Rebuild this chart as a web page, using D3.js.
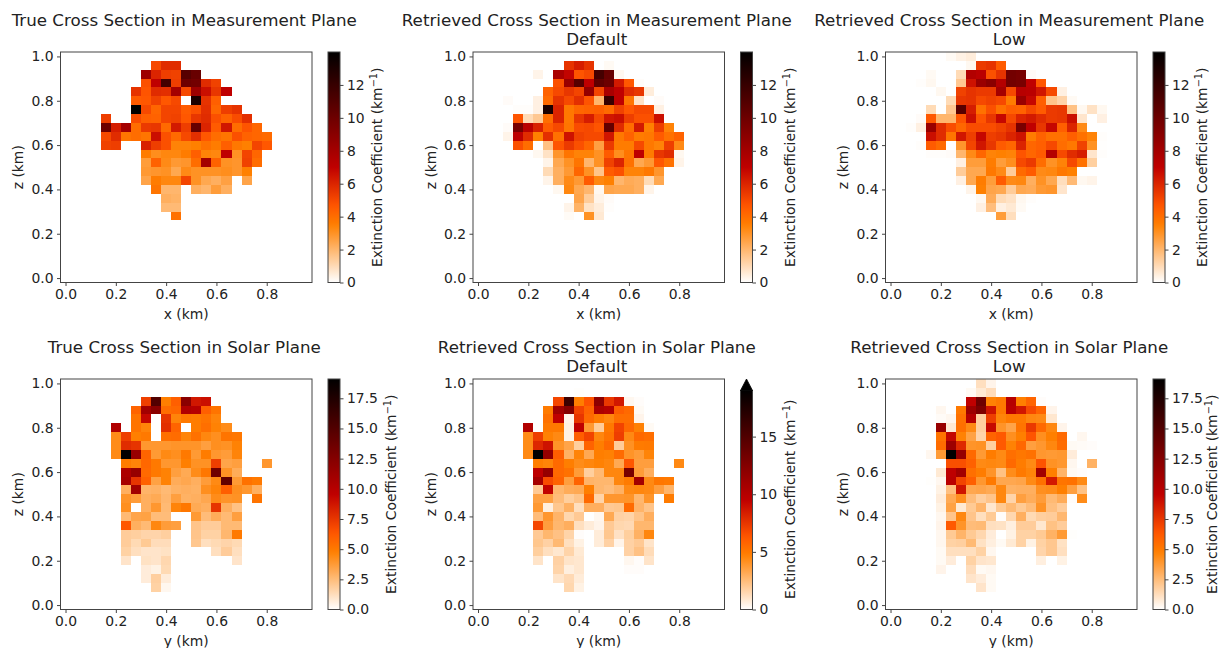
<!DOCTYPE html>
<html>
<head>
<meta charset="utf-8">
<script src="https://cdn.jsdelivr.net/npm/d3@7"></script>
<style>
  html, body { margin: 0; padding: 0; background: #fff; overflow: hidden; }
  text { font-family: "DejaVu Sans", sans-serif; fill: #222; }
</style>
</head>
<body>
<script>
// rows run from z = 1.00 down, columns from 0.00 in 0.04 km steps, 0 = empty cell
const trueMeasurement = [
  [],
  [0,0,0,0,0,0,0,0,0,5.0,5.8,5.8],
  [0,0,0,0,0,0,0,0,8.2,6.0,5.3,5.2,10.8,10.2],
  [0,0,0,0,0,0,0,0,4.8,7.0,11.5,5.3,10,9.8,5.8,5.2],
  [0,0,0,0,0,0,0,5.6,4.7,5.8,5.7,8.0,5.0,8.2,6.6,5.5,7],
  [0,0,0,0,0,0,0,4.5,4.6,5.2,4.6,5.0,0,13,5.6,4.4],
  [0,0,0,0,0,0,0,14,5,4.2,5.1,5.1,4.5,4.8,5.7,4.2,5.3,5.6],
  [0,0,0,0,5.3,0,0,4.9,4.4,4.3,5.1,5.2,4.6,5.5,5.8,4.8,4.3,4.9,5.7],
  [0,0,0,0,10,6.2,8,4,5.4,5.5,4.1,6.3,5.3,10.3,6,4.5,6.4,4,4.7,4.2],
  [0,0,0,0,5,5.8,3.8,4,3.8,6.6,4.8,4.1,5,5.7,4.6,4,3.8,4.8,4.3,4.2,4.1],
  [0,0,0,0,5.2,5.3,0,0,6.1,5.3,4.8,3.4,3.4,3.5,3.9,3.6,4.4,3.7,3.5,5.1,4.6],
  [0,0,0,0,0,0,0,0,3.6,3.1,3.3,3.3,3.6,4.4,3.4,3.3,7,3,5.1,4.2],
  [0,0,0,0,0,0,0,0,2.7,4.3,3.2,2.8,2.9,4,8,4.3,3.0,2.9,5.2,4],
  [0,0,0,0,0,0,0,0,2.8,2.9,3,2.4,3.2,3,3,3,3.1,2.9,3.5],
  [0,0,0,0,0,0,0,0,2.5,3.6,3.3,3.3,5.1,3,2.4,2.2,2.6,0,2.5],
  [0,0,0,0,0,0,0,0,0,3.8,2,2,0,2.2,2,2.7,2.2],
  [0,0,0,0,0,0,0,0,0,0,2.2,2.1],
  [0,0,0,0,0,0,0,0,0,0,1.9,1.9],
  [0,0,0,0,0,0,0,0,0,0,0,3.9]
];

const defaultMeasurement = [
  [],
  [0,0,0,0,0,0,0,0,0,5.6,6.2,5.6,0,0.15],
  [0,0,0,0,0,0,0.3,0,7.8,6.9,4.7,5,11.5,10.2,0.2],
  [0,0,0,0,0,0,0,0,4.8,8.4,10.8,7,10.5,10,6.3,4.6,0.08],
  [0,0,0,0,0,0,0,4.3,5,5.5,5.1,8.6,5.1,7.8,7,5.8,5.5,0.5],
  [0,0,0,0.1,0,0,0.4,4.1,5.6,5,5.7,4.7,2,12,7,3.8,0.8,0,0.1],
  [0,0,0,0,0.05,0.05,0.4,13,6,3.7,4.2,4.3,4.4,4.1,5.2,4.6,5,5,0.4],
  [0,0,0,0,4.7,1.0,1.5,4,6,3.7,5.5,6.2,5,6.4,6.6,5.3,4.8,4.8,6.6],
  [0,0,0,0.1,9.6,7.2,6.1,4.5,5,3.8,4.9,5,4.7,10.4,5.8,4,6.3,3.5,5.3,3.4],
  [0,0,0,0.3,7.1,5.8,3.5,5.7,3.9,6.5,5.2,5,5,6.4,3.7,4.3,3.6,3.7,4.5,3.9,4.3],
  [0,0,0,0,4.8,4,0,1.7,4.7,5.4,4.8,4.2,2.6,5.4,3.6,3.6,5,3.7,3.4,5.3,3.2],
  [0,0,0,0,0,0,0.2,0.8,2.9,3.8,3.4,3.4,3,4.5,3.1,3.8,7.1,3.6,5.5,5.8,0.2],
  [0,0,0,0,0,0,0,0.3,2.4,3,3.8,2,3,5.2,6,3.9,2.4,2.8,4.6,3.9,0.3],
  [0,0,0,0,0,0,0,1,2.2,2.8,4.2,3,1.6,4.5,4.8,3.4,3.4,3.7,2.9],
  [0,0,0,0,0,0,0,0.3,2.2,3.2,2.8,4.5,3.3,3.5,2,2.3,2.2,1.0,2.4],
  [0,0,0,0,0,0,0,0,0.2,3.3,2.4,2,0.2,2.5,2.4,2.4,2.2,0.3],
  [0,0,0,0,0,0,0,0,0,0,2.5,1.4,0.3,0.1],
  [0,0,0,0,0,0,0,0,0,0.3,2.1,0.8,0.5,0.05],
  [0,0,0,0,0,0,0,0,0,0.12,0,3.0,0.6]
];

const lowMeasurement = [
  [0,0,0,0,0,0,0.15,0.35,0.5],
  [0,0,0,0,0,0,0,0,0.2,5.4,5.6,4.5],
  [0,0,0,0,0.15,0,0,1,7.5,7.2,4.8,5.6,9.8,9.6,0.1],
  [0,0,0,0.05,0.2,0,0,1.5,6.5,8.4,9,7.4,9.8,9.6,7,4.6],
  [0,0,0,0,0,0.2,0,5.2,5.6,5.4,5.4,8.0,5,7.3,7.2,6.4,5,0.4],
  [0,0,0,0,0,0,1,5.5,5.6,5,5.2,5,3.6,8.4,6.8,4.4,1.6,1.2,0.15],
  [0,0,0,0,1,0,1.5,10.8,6.2,3.9,4.8,3.9,4.4,4.3,5,4.5,5.4,5.5,1.7,0.2,0.8,0.2],
  [0,0,0,0.1,4.6,2,2,4.7,6.6,4.7,5.5,6.8,5,6,6.3,5.8,5.4,5.5,6.6,0.7,0,0.4],
  [0,0,0.05,0.4,8.4,5.8,4.9,4.2,4.9,4.9,4.9,5.2,5.6,9.6,7,5.5,6.8,4.4,6,3.2],
  [0,0,0,0,6.6,5.8,3.8,6.4,5.3,6.8,5.3,5.5,6,6.5,3.6,4.3,3.9,3.9,4.4,3.9,3.4,0.05],
  [0,0,0,0.05,4.5,4.1,0,2.9,5.1,6.4,5.5,4.5,4.2,6,4.2,4.4,5,4,3.7,5.2,3,0.03],
  [0,0,0,0,0.05,0.05,0.1,2,3.2,4.2,3.4,3.5,3.4,4.7,4.2,4.5,7.4,5,5.8,6.2,0.7,0.05],
  [0,0,0,0,0,0,0,0.4,2.7,2.7,3.6,2.7,3.1,5,5.4,4,3,3.4,5,3.9,1.3],
  [0,0,0,0,0,0,0,1.4,2.4,2.4,3.7,3.2,1.4,4.1,4.5,3.2,3.3,3.7,3.5],
  [0,0,0,0,0,0,0,0.4,2.4,3.6,2.7,4.5,3.2,3.3,2.2,3,2.4,0.9,1.9,0.2,0.3],
  [0,0,0,0,0,0,0,0,0.3,3.5,2.5,2.4,1.4,2.4,2.3,2.8,2.9,0.7],
  [0,0,0,0,0,0,0,0,0,0.2,2.3,1,0.8,0.2,0.05],
  [0,0,0,0,0,0,0,0,0,0.4,1.8,0.4,0.6,0.15],
  [0,0,0,0,0,0,0,0,0,0,0,2.7,0.9]
];

const trueSolar = [
  [],
  [],
  [0,0,0,0,0,0,0,0,7.2,15,4.8,6,12.2,8.7,9],
  [0,0,0,0,0,0,0,5.8,11,12.2,5.5,5.7,10.3,10,6,5.2],
  [0,0,0,0,0,0,0,5.2,9.3,0,7.6,4.6,5,4.9,5.2,4.6],
  [0,0,0,0,0,10.3,0,5.2,4.6,0,7.8,5.8,0,4.9,5.4,4.7,4.3],
  [0,0,0,0,0,4.3,7.2,4.8,5,0,5.4,5.5,4.6,5.3,4.5,4.2,5.2,5.1],
  [0,0,0,0,0,4.3,7.9,7.6,3.9,3.9,3.9,4,4,4,3.6,4.2,4.1,4.7],
  [0,0,0,0,0,4.4,19,11.5,5.8,3.8,4.4,4.2,5,3.8,4.9,3.9,3.7,4.6],
  [0,0,0,0,0,0,4.9,4.6,5.7,5,3.9,3.9,4.8,4.1,4.1,7.2,3.4,3.6,0,0,3.9],
  [0,0,0,0,0,0,10.5,11.6,5.6,5,4.7,3.6,3.2,4.3,5.1,13.5,4.1,3.1],
  [0,0,0,0,0,0,10.8,7.6,5.9,3.5,4.7,3.1,3.3,3,3.7,4.4,14.2,3.8,5.3,5],
  [0,0,0,0,0,0,3,11,2.8,2.9,2.6,2.9,3,2.9,4.2,4.6,6,4.2,3.9,3],
  [0,0,0,0,0,0,4,3.7,3,3.2,2.7,3.6,2.9,3,3.3,4.3,4,4.1,0,5.2],
  [0,0,0,0,0,0,4.2,0,3,3.9,2.6,4.6,5.1,3.2,3,7.6,3,2.3],
  [0,0,0,0,0,0,2.6,3.4,3.5,2.5,2.5,0,0,3.8,2.5,3.1,2.6,3.6],
  [0,0,0,0,0,0,6.3,3,2.6,4.5,3.7,3.6,0,2.2,1.9,1.9,2.6,2.6],
  [0,0,0,0,0,0,1.9,1.8,1.6,1.6,1.8,0,0,2.2,1.7,1.7,2.7,5],
  [0,0,0,0,0,0,1.9,1.4,2,1.3,1.3,0,0,2.1,1.2,1.4,1.6,1.4],
  [0,0,0,0,0,0,1.7,1.2,1,1,1.1,0,0,0,0,1.2,1.9,1.2],
  [0,0,0,0,0,0,1.0,0,1.1,1,1.5,0,0,0,0,0,0,1],
  [0,0,0,0,0,0,0,0,0.7,0.5,1.4],
  [0,0,0,0,0,0,0,0,0.7,1.8,0.7],
  [0,0,0,0,0,0,0,0,0,1.7,0.3]
];

const defaultSolar = [
  [],
  [0,0,0,0,0,0,0,0,0,0,0.05],
  [0,0,0,0,0,0,0,0,6.9,16,4.8,6.4,12,7.4,8.6,0.3,0.1],
  [0,0,0,0,0,0,0,4.9,11,12.4,7,5.8,10.5,10,6,5.6,0.2],
  [0,0,0,0,0,0,0,5.3,9.5,0.4,7.5,5.6,4.9,4.5,5.4,5.4,0.4],
  [0,0,0,0,0,10.2,0.05,5,5,0.5,9.5,3.8,1.9,5,7,5.6,4.7,0.2],
  [0,0,0,0,0,4.3,7.2,4.7,4.4,0.5,6,7,4.5,5.2,7.2,4.4,5.6,5.4],
  [0,0,0,0,0,4.3,8,8.8,4,3.4,1.8,5.8,4.8,5.6,1.9,4.1,4.9,5],
  [0,0,0,0,0,4.4,19,11.6,6,2.9,4.6,3.2,4.8,4.7,5.5,4,3.7,4.6],
  [0,0,0,0,0,0,4.8,4.6,5.6,4.8,4.3,4.5,4.7,4.5,3.2,6.3,3.6,3.6,0,0,4.4],
  [0,0,0,0,0,0,9.6,11.6,5.6,5.3,3.7,1.8,2.6,4.5,4.5,13,3.7,3],
  [0,0,0,0,0,0,10.8,6.7,5.8,3.6,5.8,2.8,2.7,2.7,4.5,4.9,10.9,4.4,5.1,5],
  [0,0,0,0,0,0,2,9.4,2.7,3.1,3.2,4.8,2.7,2.5,2.9,4.4,4.5,4.4,3.6,2.8],
  [0,0,0,0,0,0,3.5,3.5,2.5,1.8,2.2,5.6,1.6,3.9,3.9,4,2.7,4,0,4.9],
  [0,0,0,0,0,0,3.8,0.6,2.1,2.9,1.2,3,3,2,2.1,5.5,2.8,2.2],
  [0,0,0,0,0,0,2.5,3.9,2.8,1.5,2,0,0.3,3.2,1.7,1.6,2.2,3],
  [0,0,0,0,0,0,6.9,3.6,2.7,3,1.2,0.7,0.4,2,1.5,1.4,2.7,2.7],
  [0,0,0,0,0,0,2,2.7,2.3,1.6,0.1,0,0.7,2.1,1.1,1.8,2.9,4.5],
  [0,0,0,0,0,0,2.1,1.7,2.6,1.2,0.5,0,0.7,1.7,0.4,1.7,2,1],
  [0,0,0,0,0,0,1.8,1.2,0.9,1.6,0.8,0,0,0,0,1.7,2.3,1.3],
  [0,0,0,0,0,0,1,0,1.7,1,0.9,0,0,0,0,0.3,0.1,1],
  [0,0,0,0,0,0,0,0,1.6,0.6,0.9,0,0,0,0,0.1,0.1],
  [0,0,0,0,0,0,0,0,1,1.4,0.7],
  [0,0,0,0,0,0,0,0,0,1.5,0.5]
];

const lowSolar = [
  [0,0,0,0,0,0,0,0,0,1.2,0.4],
  [0,0,0,0,0,0,0,0,0.2,0.8,1.3],
  [0,0,0,0,0,0,0,0,9.5,13.6,4.7,5,10,4.8,5.8,0.1],
  [0,0,0,0,0,0.3,0,5,11.3,12.8,8.8,5,9.8,8.7,6.8,5.8,0.4],
  [0,0,0,0,0,0.15,0.3,5.3,10,1.8,7.2,4.6,5,5,4.5,4.4,0.9],
  [0,0,0,0,0,11.5,0.8,5.4,4.4,1.8,9.2,4,3.4,5.2,7.4,5.6,4.5,0.4],
  [0,0,0,0,0,5.2,9.3,4.7,3.5,1.6,5.8,6.2,4.2,4.8,6.4,4.2,4.8,5.6,0,0.3],
  [0,0,0,0,0,5.5,11.3,8,4,4.1,1.8,6.2,4.7,5.7,3.6,3.9,4.5,5.5,0.2,0.15,0.1],
  [0,0,0,0,0.3,3.8,19,11.6,5.6,3.8,4.9,4.4,5.4,5.1,5.3,3.9,3.8,3.9,0.7],
  [0,0,0,0,0,0,6.6,6.6,5.9,4.4,4.5,4.4,5.6,4.9,4.4,6.4,4.1,3.9,0.3,0,2.9],
  [0,0,0,0,0,0.8,9.6,11,5.4,4.9,4,2.3,4.3,5,4.6,11,4.8,2.8,0.2,0.1],
  [0,0,0,0,0.05,0.3,9.8,7,6,3.9,5,3.3,3.3,3.4,4.4,5.3,8.6,5.2,5.3,4.4],
  [0,0,0,0,0,0.5,2.4,8.8,3.3,3.4,3.2,4.5,2.9,3,3,4.2,4.3,4.8,3.6,2.3],
  [0,0,0,0,0,0.7,3.2,4.2,2.5,1.8,2.2,4.5,1.6,3.6,3.1,3.7,2.6,3.1,0.1,4.3],
  [0,0,0,0,0,0.5,3.5,0.8,2,2.8,0.9,2,2.6,2,2.5,4.1,2.4,1.9],
  [0,0,0,0,0,0.3,2.2,4.5,2.2,1.2,2,0.1,1.5,3,1.4,1.8,1.9,2.7],
  [0,0,0,0,0,0.4,6.2,4,2.5,2.6,1.2,1.1,0.6,1.9,1.9,0.9,2.3,1.9],
  [0,0,0,0,0,0.3,2,2.8,2,1.5,0.7,0,0.5,1.7,1.7,2,2.9,3.8,0.05],
  [0,0,0,0,0,0.3,1.7,1.8,2.6,1.1,0.6,0.2,0.8,1.7,0.5,1.7,2.1,1.1],
  [0,0,0,0,0,0.2,1.2,1.2,1.2,1.7,0.3,0,0,0,0,1.6,2.1,1.2],
  [0,0,0,0,0,0.2,0.7,0,1.7,1,0.9,0,0,0,0,0.6,0,0.5],
  [0,0,0,0,0,0.4,0,0,1.3,0.2,0.3],
  [0,0,0,0,0,0,0,0,1,0.7,0.2],
  [0,0,0,0,0,0,0,0,0,1,0.2]
];

const measurementTicks = [0, 2, 4, 6, 8, 10, 12];
const solarTicks = [0, 2.5, 5, 7.5, 10, 12.5, 15, 17.5];
const solarDefaultTicks = [0, 5, 10, 15];
const axisTicks = [0, 0.2, 0.4, 0.6, 0.8];
const zTicks = [0, 0.2, 0.4, 0.6, 0.8, 1.0];

const gridStep = 0.04;
const rowCount = 26;

const panels = [
  {title: ["True Cross Section in Measurement Plane"], cells: trueMeasurement, xName: "x (km)", left: 60.5, top: 52, vmax: 14, ticks: measurementTicks, barFormat: "~g", labelDx: 70},
  {title: ["Retrieved Cross Section in Measurement Plane", "Default"], cells: defaultMeasurement, xName: "x (km)", left: 473, top: 52, vmax: 14, ticks: measurementTicks, barFormat: "~g", labelDx: 70},
  {title: ["Retrieved Cross Section in Measurement Plane", "Low"], cells: lowMeasurement, xName: "x (km)", left: 885.5, top: 52, vmax: 14, ticks: measurementTicks, barFormat: "~g", labelDx: 70},
  {title: ["True Cross Section in Solar Plane"], cells: trueSolar, xName: "y (km)", left: 60.5, top: 379, vmax: 19.1, ticks: solarTicks, barFormat: ".1f", labelDx: 84},
  {title: ["Retrieved Cross Section in Solar Plane", "Default"], cells: defaultSolar, xName: "y (km)", left: 473, top: 379, vmax: 19, ticks: solarDefaultTicks, barFormat: "~g", labelDx: 70, extend: true},
  {title: ["Retrieved Cross Section in Solar Plane", "Low"], cells: lowSolar, xName: "y (km)", left: 885.5, top: 379, vmax: 19.1, ticks: solarTicks, barFormat: ".1f", labelDx: 79.5}
];

const plotW = 251.5, plotH = 230.5, barGap = 16, barW = 12;
const frameColor = "#444";
const labelSize = "13.9px", titleSize = "16.7px";

// same curve as matplotlib gist_heat_r
const heat = t => {
  const v = 1 - Math.max(0, Math.min(1, t));
  const c = k => Math.round(255 * Math.max(0, Math.min(1, k)));
  return d3.rgb(c(1.5 * v), c(2 * v - 1), c(4 * v - 3)).formatHex();
};

const svg = d3.select("body").append("svg")
  .attr("width", 1220)
  .attr("height", 648)
  .style("display", "block");
const defs = svg.append("defs");

panels.forEach((p, i) => {
  const g = svg.append("g").attr("transform", `translate(${p.left},${p.top})`);
  const x = d3.scaleLinear().domain([-0.02, 0.98]).range([0, plotW]);
  const y = d3.scaleLinear().domain([-0.02, 1.02]).range([plotH, 0]);
  const color = d3.scaleLinear().domain([0, p.vmax]).range([0, 1]);

  const cells = p.cells.flatMap((row, r) => row.map((v, c) => ({
    value: v,
    xv: c * gridStep,
    zv: (rowCount - 1 - r) * gridStep
  }))).filter(d => d.value > 0);

  g.selectAll("rect.cell")
    .data(cells)
    .join("rect")
    .attr("class", "cell")
    .attr("x", d => x(d.xv - gridStep / 2))
    .attr("y", d => y(d.zv + gridStep / 2))
    .attr("width", x(gridStep) - x(0))
    .attr("height", y(0) - y(gridStep))
    .attr("fill", d => heat(color(d.value)))
    .attr("shape-rendering", "crispEdges");

  g.append("rect")
    .attr("width", plotW).attr("height", plotH)
    .attr("fill", "none").attr("stroke", frameColor).attr("stroke-width", 1);

  const xAxis = g.append("g").attr("transform", `translate(0,${plotH})`)
    .call(d3.axisBottom(x).tickValues(axisTicks).tickFormat(d3.format(".1f")).tickSize(3.5).tickPadding(3.5));
  const yAxis = g.append("g")
    .call(d3.axisLeft(y).tickValues(zTicks).tickFormat(d3.format(".1f")).tickSize(3.5).tickPadding(3.5));
  [xAxis, yAxis].forEach(a => {
    a.select(".domain").remove();
    a.selectAll("line").attr("stroke", frameColor);
    a.selectAll("text").style("font-size", labelSize).style("font-family", '"DejaVu Sans"').attr("fill", "#222");
  });

  g.append("text")
    .attr("x", plotW / 2).attr("y", plotH + 36.5)
    .attr("text-anchor", "middle").style("font-size", labelSize)
    .text(p.xName);
  g.append("text")
    .attr("transform", `translate(-37.5,${plotH / 2}) rotate(-90)`)
    .attr("text-anchor", "middle").style("font-size", labelSize)
    .text("z (km)");

  p.title.forEach((line, k) => {
    g.append("text")
      .attr("x", plotW / 2 - 2).attr("y", -26.5 + k * 19)
      .attr("text-anchor", "middle").style("font-size", titleSize)
      .text(line);
  });

  // colour bar
  const barTop = p.extend ? 11.5 : 0;
  const bar = g.append("g").attr("transform", `translate(${plotW + barGap},0)`);
  const barScale = d3.scaleLinear().domain([0, p.vmax]).range([plotH, barTop]);
  const gradId = `bar${i}`;
  defs.append("linearGradient").attr("id", gradId)
    .attr("x1", 0).attr("x2", 0).attr("y1", 1).attr("y2", 0)
    .selectAll("stop")
    .data(d3.range(0, 1.001, 0.02))
    .join("stop")
    .attr("offset", d => d)
    .attr("stop-color", d => heat(d));
  bar.append("rect")
    .attr("y", barTop).attr("width", barW).attr("height", plotH - barTop)
    .attr("fill", `url(#${gradId})`)
    .attr("stroke", frameColor).attr("stroke-width", 1);
  if (p.extend) {
    bar.append("path")
      .attr("d", d3.line()([[0, barTop], [barW / 2, 0], [barW, barTop]]) + "Z")
      .attr("fill", "#000").attr("stroke", "#000").attr("stroke-width", 0.8);
  }
  const barAxis = bar.append("g").attr("transform", `translate(${barW},0)`)
    .call(d3.axisRight(barScale).tickValues(p.ticks).tickFormat(d3.format(p.barFormat)).tickSize(3.5).tickPadding(3.5));
  barAxis.select(".domain").remove();
  barAxis.selectAll("line").attr("stroke", frameColor);
  barAxis.selectAll("text").style("font-size", labelSize).style("font-family", '"DejaVu Sans"').attr("fill", "#222");

  const label = g.append("text")
    .attr("transform", `translate(${plotW + p.labelDx},${plotH / 2 + (p.extend ? 5 : 0)}) rotate(-90)`)
    .attr("text-anchor", "middle").style("font-size", labelSize);
  label.append("tspan").text("Extinction Coefficient (km");
  label.append("tspan").attr("dy", -5).style("font-size", "9.8px").text("\u22121");
  label.append("tspan").attr("dy", 5).text(")");
});
</script>
</body>
</html>
